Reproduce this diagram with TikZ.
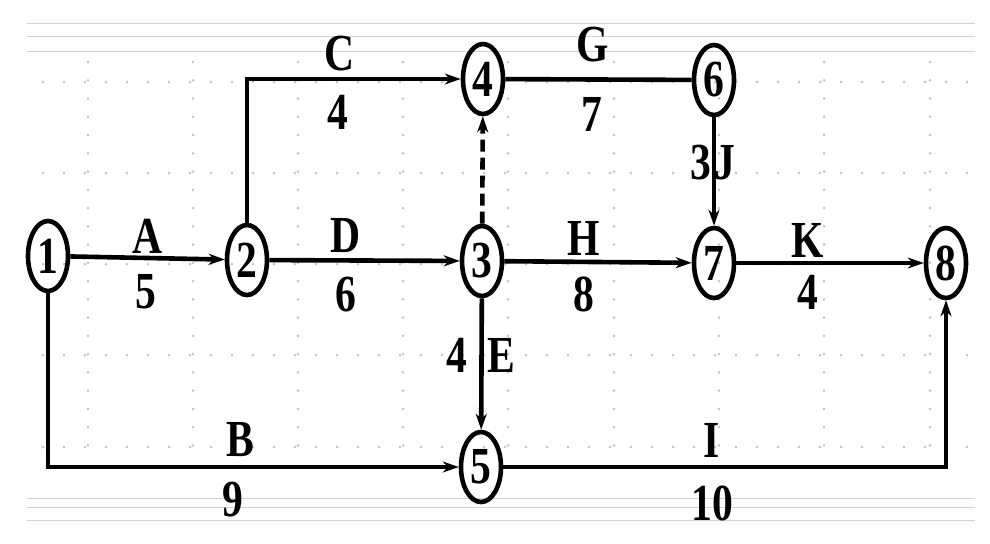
\documentclass[tikz,border=0pt]{standalone}
\usepackage{fontspec}
\usepackage{graphicx}
\setmainfont{Liberation Serif}
\usetikzlibrary{shapes.geometric,arrows.meta}
\newcommand{\lb}[1]{\scalebox{0.8}[1]{#1}}
\tikzset{
  ev/.style={ellipse,draw,line width=2.3pt,inner sep=0pt,minimum width=20pt,minimum height=35pt,font=\fontsize{26}{26}\selectfont\bfseries},
  lab/.style={inner sep=0pt,font=\fontsize{26}{26}\selectfont\bfseries},
  act/.style={line width=2.3pt,-{Stealth[length=8pt,width=5.5pt]}},
  plain/.style={line width=2.3pt},
  dummy/.style={line width=2.3pt,dash pattern=on 6pt off 3pt,-{Stealth[length=8pt,width=5.5pt]}},
  griddot/.style={fill=gray!45},
  band/.style={draw=gray!35,line width=0.4pt}
}
\begin{document}
\begin{tikzpicture}[x=0.5pt,y=-0.5pt]
\useasboundingbox (0,0) rectangle (990,543);
% faint background bands and dotted grid
\foreach \yy in {23,36,51,498,507,520} \draw[band] (27,\yy) -- (975,\yy);
\foreach \yy in {82,173,264,355,447}
  \foreach \xx in {0,...,44} \fill[griddot] ({43+21*\xx},\yy) circle (1.5);
\foreach \xx in {88,193,298,403,508,614,719,824,930}
  \foreach \yy in {0,...,21} \fill[griddot] (\xx,{62+18.25*\yy}) circle (1.5);
% events
\node[ev] (n1) at (48,256) {\lb{1}};
\node[ev] (n2) at (247,260) {\lb{2}};
\node[ev] (n3) at (482,261) {\lb{3}};
\node[ev] (n4) at (483,79) {\lb{4}};
\node[ev] (n6) at (714,80) {\lb{6}};
\node[ev] (n7) at (714,263) {\lb{7}};
\node[ev] (n8) at (946,263) {\lb{8}};
\node[ev] (n5) at (481,467) {\lb{5}};
% activities
\draw[act] (n1) -- (n2);
\draw[act] (n2.north) |- (n4.west);
\draw[act] (n2) -- (n3);
\draw[dummy] (n3) -- (n4);
\draw[plain] (n4) -- (n6);
\draw[act] (n6) -- (n7);
\draw[act] (n3) -- (n7);
\draw[act] (n7) -- (n8);
\draw[act] (n3) -- (n5);
\draw[act] (n1.south) |- (n5.west);
\draw[act] (n5.east) -| (n8.south);
% labels
\node[lab] (lA) at (148,236) {\lb{A}};
\node[lab] (dA) at (146,292) {\lb{5}};
\node[lab] (lC) at (340,54) {\lb{C}};
\node[lab] (dC) at (338,112) {\lb{4}};
\node[lab] (lD) at (346,236) {\lb{D}};
\node[lab] (dD) at (346,295) {\lb{6}};
\node[lab] (lG) at (593,45) {\lb{G}};
\node[lab] (dG) at (592,114) {\lb{7}};
\node[lab] (lH) at (584,238) {\lb{H}};
\node[lab] (dH) at (584,294) {\lb{8}};
\node[lab] (lK) at (808,240) {\lb{K}};
\node[lab] (dK) at (808,292) {\lb{4}};
\node[lab] (dJ) at (701,163) {\lb{3}};
\node[lab] (lJ) at (725,163) {\lb{J}};
\node[lab] (dE) at (457,355) {\lb{4}};
\node[lab] (lE) at (501,355) {\lb{E}};
\node[lab] (lB) at (240,440) {\lb{B}};
\node[lab] (dB) at (233,500) {\lb{9}};
\node[lab] (lI) at (712,440) {\lb{I}};
\node[lab] (dI) at (712,503) {\lb{10}};
\end{tikzpicture}
\end{document}
